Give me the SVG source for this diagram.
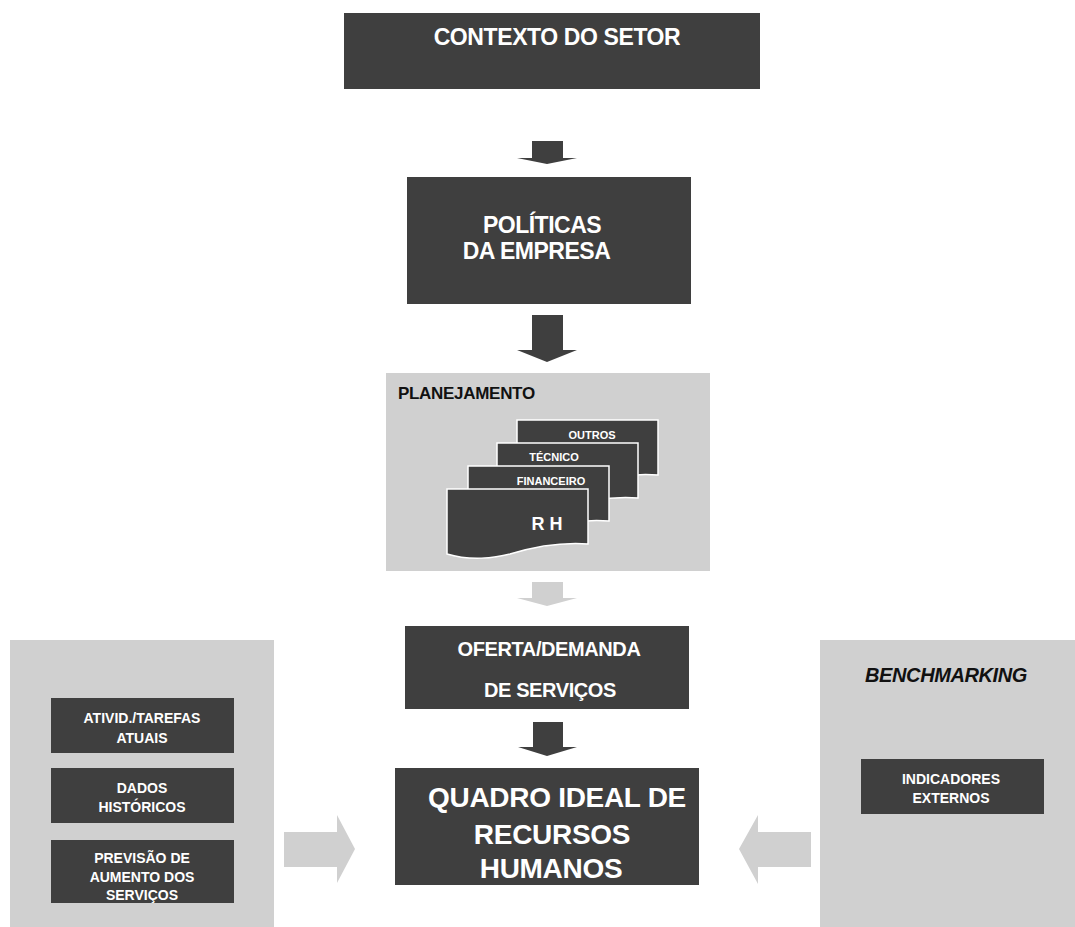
<svg xmlns="http://www.w3.org/2000/svg" xmlns:xlink="http://www.w3.org/1999/xlink" width="1075" height="927" viewBox="0 0 1075 927">
<style>
.dark{fill:#3f3f3f}
.light{fill:#d0d0d0}
.t{font-family:"Liberation Sans",Arial,Helvetica,sans-serif;font-weight:bold;fill:#ffffff;text-anchor:middle}
.s{font-size:14px}
.card{fill:#3f3f3f;stroke:#ffffff;stroke-width:1.5}
</style>
<defs>
<path id="doc" d="M0,0 H141 V55 C113,53 83,59 63,65 C48,69 23,72 0,65 Z"/>
</defs>
<rect width="1075" height="927" fill="#ffffff"/>

<g id="contexto">
<rect class="dark" x="344" y="13" width="416" height="76"/>
<text class="t" x="557" y="45" font-size="23" letter-spacing="-0.4">CONTEXTO DO SETOR</text>
</g>

<g id="politicas">
<rect class="dark" x="407" y="177" width="284" height="127"/>
<text class="t" x="542" y="233" font-size="23" letter-spacing="-0.5">POLÍTICAS</text>
<text class="t" x="536.5" y="259" font-size="23" letter-spacing="-0.5">DA EMPRESA</text>
</g>

<g id="planejamento">
<rect class="light" x="386" y="373" width="324" height="198"/>
<text x="398" y="399" font-family="&quot;Liberation Sans&quot;,Arial,sans-serif" font-weight="bold" font-size="17" fill="#111111" letter-spacing="-0.3">PLANEJAMENTO</text>
<g id="card-outros">
<use xlink:href="#doc" class="card" transform="translate(517,420)"/>
<text class="t" x="592" y="439" font-size="11">OUTROS</text>
</g>
<g id="card-tecnico">
<use xlink:href="#doc" class="card" transform="translate(497,443)"/>
<text class="t" x="554" y="461" font-size="11">TÉCNICO</text>
</g>
<g id="card-financeiro">
<use xlink:href="#doc" class="card" transform="translate(468,466)"/>
<text class="t" x="551" y="485" font-size="11">FINANCEIRO</text>
</g>
<g id="card-rh">
<use xlink:href="#doc" class="card" transform="translate(447,489)"/>
<text class="t" x="547" y="530" font-size="18">R H</text>
</g>
</g>

<g id="oferta">
<rect class="dark" x="405" y="626" width="284" height="83"/>
<text class="t" x="549" y="656" font-size="20" letter-spacing="-0.4">OFERTA/DEMANDA</text>
<text class="t" x="550" y="697" font-size="20" letter-spacing="-0.4">DE SERVIÇOS</text>
</g>

<g id="quadro">
<rect class="dark" x="395" y="768" width="304" height="117"/>
<text class="t" x="557" y="807" font-size="28" letter-spacing="-0.3">QUADRO IDEAL DE</text>
<text class="t" x="552" y="844" font-size="28" letter-spacing="-0.3">RECURSOS</text>
<text class="t" x="551" y="878" font-size="28" letter-spacing="-0.3">HUMANOS</text>
</g>

<g id="painel-interno">
<rect class="light" x="10" y="640" width="264" height="287"/>
<g id="ativid">
<rect class="dark" x="51" y="698" width="183" height="55"/>
<text class="t s" x="142" y="723">ATIVID./TAREFAS</text>
<text class="t s" x="142" y="743">ATUAIS</text>
</g>
<g id="dados">
<rect class="dark" x="51" y="768" width="183" height="55"/>
<text class="t s" x="142" y="793">DADOS</text>
<text class="t s" x="142" y="812">HISTÓRICOS</text>
</g>
<g id="previsao">
<rect class="dark" x="51" y="840" width="183" height="63"/>
<text class="t s" x="142" y="863">PREVISÃO DE</text>
<text class="t s" x="142" y="882">AUMENTO DOS</text>
<text class="t s" x="142" y="900">SERVIÇOS</text>
</g>
</g>

<g id="benchmarking">
<rect class="light" x="820" y="640" width="255" height="287"/>
<text x="946" y="682" text-anchor="middle" font-family="&quot;Liberation Sans&quot;,Arial,sans-serif" font-weight="bold" font-style="italic" font-size="20" fill="#111111" letter-spacing="-0.4">BENCHMARKING</text>
<g id="indicadores">
<rect class="dark" x="861" y="759" width="183" height="55"/>
<text class="t s" x="951" y="784">INDICADORES</text>
<text class="t s" x="951" y="803">EXTERNOS</text>
</g>
</g>

<g id="connectors">
<polygon class="dark" points="532,141 563,141 563,158 577,158 547,164 517,158 532,158"/>
<polygon class="dark" points="532,315 563,315 563,350 577,350 547,362 517,350 532,350"/>
<polygon class="light" points="532,582 563,582 563,598 577,598 547,606 517,598 532,598"/>
<polygon class="dark" points="533,722 563,722 563,747 577,747 547,756 518,747 533,747"/>
<polygon class="light" points="284,832 337,832 337,815 355,849 337,883 337,867 284,867"/>
<polygon class="light" points="811,832 758,832 758,815 739,849 758,884 758,867 811,867"/>
</g>
</svg>
